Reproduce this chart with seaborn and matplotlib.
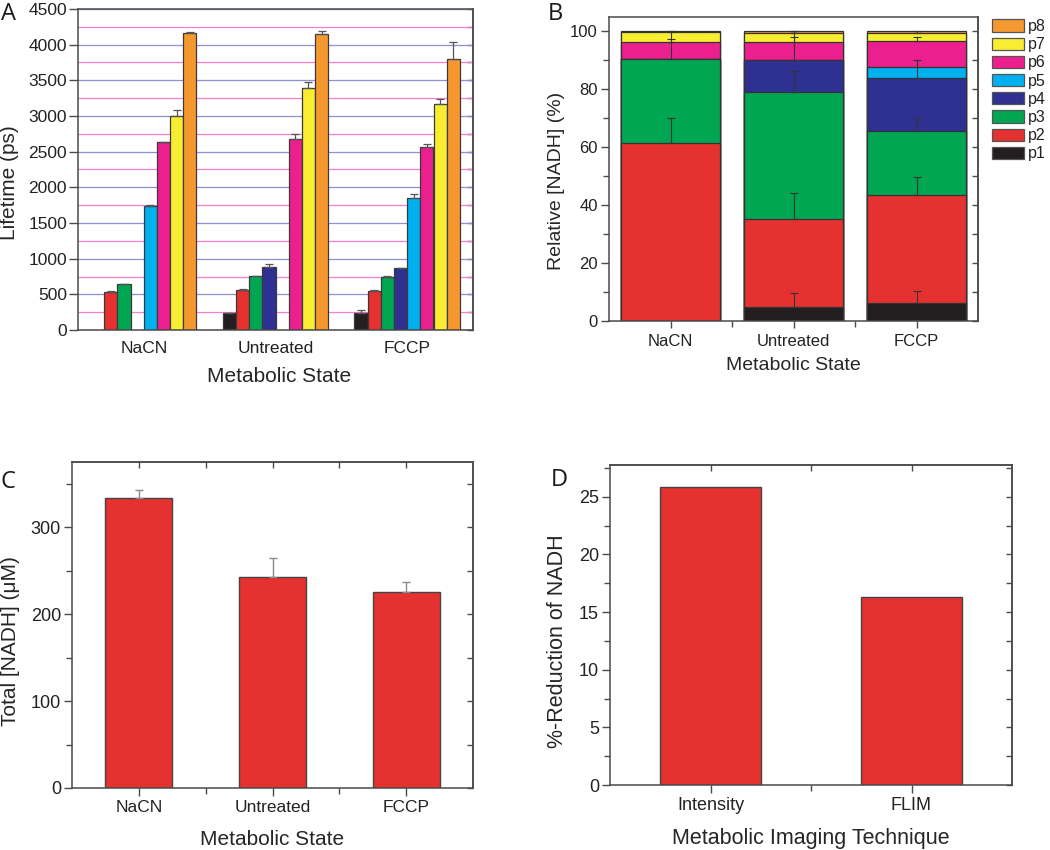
import numpy as np
import pandas as pd
import matplotlib
matplotlib.use("Agg")
import matplotlib.pyplot as plt
import seaborn as sns
from matplotlib.ticker import MultipleLocator, FixedLocator
from matplotlib.patches import Patch

# ---------------- data ----------------
states = ["NaCN", "Untreated", "FCCP"]
components = ["p1", "p2", "p3", "p4", "p5", "p6", "p7", "p8"]
colors = ["#231f20", "#e5312f", "#00a651", "#2e3192",
          "#00b0ef", "#ec1f8e", "#f9ed32", "#f4982f"]

# Panel A: lifetimes (ps)
lifetime_nacn = [np.nan, 537, 639, np.nan, 1741, 2632, 3006, 4168]
lifetime_untreated = [238, 560, 756, 877, np.nan, 2684, 3398, 4154]
lifetime_fccp = [243, 546, 737, 868, 1844, 2562, 3169, 3799]
lifetime_err_nacn = [np.nan, 8, 10, np.nan, 6, 8, 74, 8]
lifetime_err_untreated = [6, 20, 8, 43, np.nan, 60, 84, 37]
lifetime_err_fccp = [37, 8, 15, 5, 60, 47, 70, 243]

# Panel B: relative [NADH] (%)
frac_nacn = [0, 61.4, 29.2, 0, 0, 5.9, 3.3, 0.2]
frac_untreated = [4.8, 30.4, 44.0, 11.0, 0, 6.3, 2.9, 0.6]
frac_fccp = [6.3, 37.1, 22.2, 18.5, 3.5, 9.0, 2.9, 0.5]
frac_err_nacn = [0, 8.7, 6.9, 0, 0, 3.5, 0.2, 0]
frac_err_untreated = [4.7, 9.0, 7.3, 7.8, 0, 3.5, 0.6, 0]
frac_err_fccp = [4.1, 6.2, 4.5, 6.2, 0, 1.5, 0.6, 0]

# Panel C: total [NADH] (uM)
total_nadh = [334, 243, 226]
total_nadh_err = [9, 22, 11]

# Panel D
techniques = ["Intensity", "FLIM"]
reduction = [25.8, 16.3]

# ---------------- style ----------------
sns.set_style("ticks")
plt.rcParams["font.family"] = ["Liberation Sans", "DejaVu Sans"]
plt.rcParams["axes.edgecolor"] = "#4a4a4a"
plt.rcParams["axes.linewidth"] = 1.1
plt.rcParams["xtick.color"] = "#4a4a4a"
plt.rcParams["ytick.color"] = "#4a4a4a"
plt.rcParams["xtick.labelcolor"] = "#222222"
plt.rcParams["ytick.labelcolor"] = "#222222"
plt.rcParams["text.color"] = "#222222"

RED = "#e5312f"
EDGE = "#3a3a3a"

W, H = 1050, 850
fig = plt.figure(figsize=(10.5, 8.5), dpi=100)


def px_axes(left, top, right, bottom):
    return fig.add_axes([left / W, 1 - bottom / H, (right - left) / W, (bottom - top) / H])


def mirror_y(ax, major, minor):
    sec = ax.secondary_yaxis("right")
    sec.yaxis.set_major_locator(MultipleLocator(major))
    sec.yaxis.set_minor_locator(MultipleLocator(minor))
    sec.tick_params(which="both", direction="in", labelright=False, length=4, width=1)
    sec.spines["right"].set_color("#4a4a4a")
    return sec


def mirror_x(ax, n):
    sec = ax.secondary_xaxis("top")
    sec.xaxis.set_major_locator(FixedLocator(list(range(n))))
    sec.xaxis.set_minor_locator(FixedLocator([i + 0.5 for i in range(n - 1)]))
    sec.tick_params(which="both", direction="in", labeltop=False, length=4, width=1)
    return sec


def panel_letter(x, y, s):
    fig.text(x / W, 1 - y / H, s, fontsize=17, family=["Open Sans", "DejaVu Sans"],
             ha="left", va="top", color="#1a1a1a")


# ---------------- Panel A ----------------
axA = px_axes(78, 9, 473, 330)
rows = []
for s, vals, errs in zip(states,
                         [lifetime_nacn, lifetime_untreated, lifetime_fccp],
                         [lifetime_err_nacn, lifetime_err_untreated, lifetime_err_fccp]):
    for c, v, e in zip(components, vals, errs):
        if not np.isnan(v):
            rows.append(dict(state=s, comp=c, lifetime=v, err=e))
dfA = pd.DataFrame(rows)
sns.barplot(data=dfA, x="state", y="lifetime", hue="comp", order=states,
            hue_order=components, palette=colors, saturation=1, errorbar=None,
            width=0.8, edgecolor=EDGE, linewidth=0.9, legend=False, ax=axA, zorder=2)
for ci, comp in enumerate(components):
    sub = dfA[dfA.comp == comp].set_index("state")
    for bar in axA.containers[ci]:
        xc = bar.get_x() + bar.get_width() / 2
        st = states[int(round(xc))]
        e = sub.loc[st, "err"]
        axA.errorbar(xc, bar.get_height(), yerr=[[0], [e]], fmt="none",
                     ecolor="#555555", elinewidth=0.9, capsize=3, capthick=0.9, zorder=3)
axA.set_ylim(0, 4500)
axA.set_xlim(-0.5, 2.5)
axA.yaxis.set_major_locator(MultipleLocator(500))
axA.yaxis.set_minor_locator(MultipleLocator(250))
axA.set_axisbelow(True)
axA.grid(which="major", axis="y", color="#8f8fd6", lw=0.9)
axA.grid(which="minor", axis="y", color="#f27fcf", lw=0.9)
axA.tick_params(axis="y", which="major", direction="out", length=6.5, width=1, pad=1.5, labelsize=12.5)
axA.tick_params(axis="y", which="minor", left=False)
axA.tick_params(axis="x", length=0, pad=8, labelsize=12.5)
mirror_y(axA, 500, 250)
axA.set_xlabel("Metabolic State", fontsize=15)
axA.set_ylabel("Lifetime (ps)", fontsize=15)
axA.xaxis.set_label_coords(0.51, -0.115)
axA.yaxis.set_label_coords(-0.15, 0.46)
panel_letter(1, 2, "A")

# ---------------- Panel B ----------------
axB = px_axes(609, 17, 978, 321)
fracs = np.array([frac_nacn, frac_untreated, frac_fccp])
frac_errs = np.array([frac_err_nacn, frac_err_untreated, frac_err_fccp])
cum = np.cumsum(fracs, axis=1)
for j in reversed(range(len(components))):
    sns.barplot(x=states, y=cum[:, j], color=colors[j], saturation=1, width=0.8,
                edgecolor="#333333", linewidth=0.9, errorbar=None, ax=axB)
for j in range(len(components)):
    cont = axB.containers[len(components) - 1 - j]
    for bar in cont:
        xc = bar.get_x() + bar.get_width() / 2
        i = int(round(xc))
        e = frac_errs[i, j]
        if e > 0:
            axB.errorbar(xc, bar.get_height(), yerr=[[0], [e]], fmt="none",
                         ecolor="#333333", elinewidth=0.8, capsize=3, capthick=0.8, zorder=5)
axB.set_ylim(0, 105)
axB.set_xlim(-0.5, 2.5)
axB.yaxis.set_major_locator(MultipleLocator(20))
axB.yaxis.set_minor_locator(MultipleLocator(10))
axB.xaxis.set_minor_locator(FixedLocator([0.5, 1.5]))
axB.tick_params(axis="y", which="major", direction="out", length=6, width=1, pad=2, labelsize=12)
axB.tick_params(axis="y", which="minor", direction="out", length=4, width=1)
axB.tick_params(axis="x", which="major", direction="out", length=5, width=1, pad=4, labelsize=12)
axB.tick_params(axis="x", which="minor", direction="out", length=4, width=1)
mirror_y(axB, 20, 10)
axB.set_xlabel("Metabolic State", fontsize=14)
axB.set_ylabel("Relative [NADH] (%)", fontsize=14)
axB.xaxis.set_label_coords(0.5, -0.12)
axB.yaxis.set_label_coords(-0.12, 0.46)
handles = [Patch(facecolor=colors[j], edgecolor="#555555", linewidth=0.9, label=components[j])
           for j in reversed(range(len(components)))]
fig.legend(handles=handles, loc="upper left", bbox_to_anchor=(992 / W, 1 - 19 / H),
           frameon=False, fontsize=11.5, handlelength=2.0, handleheight=0.8,
           labelspacing=0.2, handletextpad=0.25, borderpad=0, borderaxespad=0)
panel_letter(548, 2, "B")

# ---------------- Panel C ----------------
axC = px_axes(72, 462, 473, 788)
sns.barplot(x=states, y=total_nadh, color=RED, saturation=1, width=0.5,
            edgecolor="#444444", linewidth=1, errorbar=None, ax=axC)
for bar, e in zip(axC.containers[0], total_nadh_err):
    xc = bar.get_x() + bar.get_width() / 2
    axC.errorbar(xc, bar.get_height(), yerr=[[0], [e]], fmt="none",
                 ecolor="#8a8a8a", elinewidth=1, capsize=3, capthick=1, zorder=3)
axC.set_ylim(0, 375)
axC.set_xlim(-0.5, 2.5)
axC.yaxis.set_major_locator(MultipleLocator(100))
axC.yaxis.set_minor_locator(MultipleLocator(50))
axC.xaxis.set_minor_locator(FixedLocator([0.5, 1.5]))
axC.tick_params(axis="y", which="major", direction="out", length=6, width=1, pad=2, labelsize=13)
axC.tick_params(axis="y", which="minor", direction="out", length=4, width=1)
axC.tick_params(axis="x", which="major", direction="out", length=6, width=1, pad=3, labelsize=12.5)
axC.tick_params(axis="x", which="minor", direction="out", length=4, width=1)
mirror_y(axC, 100, 50)
mirror_x(axC, 3)
axC.set_xlabel("Metabolic State", fontsize=15)
axC.set_ylabel("Total [NADH] (\u03bcM)", fontsize=15)
axC.xaxis.set_label_coords(0.5, -0.13)
axC.yaxis.set_label_coords(-0.13, 0.45)
panel_letter(1, 470, "C")

# ---------------- Panel D ----------------
axD = px_axes(610, 465, 1012, 785)
sns.barplot(x=techniques, y=reduction, color=RED, saturation=1, width=0.5,
            edgecolor="#444444", linewidth=1, errorbar=None, ax=axD)
axD.set_ylim(0, 27.75)
axD.set_xlim(-0.5, 1.5)
axD.yaxis.set_major_locator(MultipleLocator(5))
axD.yaxis.set_minor_locator(MultipleLocator(2.5))
axD.xaxis.set_minor_locator(FixedLocator([0.5]))
axD.tick_params(axis="y", which="major", direction="out", length=6, width=1, pad=2, labelsize=13)
axD.tick_params(axis="y", which="minor", direction="out", length=4, width=1)
axD.tick_params(axis="x", which="major", direction="out", length=6, width=1, pad=3, labelsize=13)
axD.tick_params(axis="x", which="minor", direction="out", length=4, width=1)
mirror_y(axD, 5, 2.5)
mirror_x(axD, 2)
axD.set_xlabel("Metabolic Imaging Technique", fontsize=15.5)
axD.set_ylabel("%-Reduction of NADH", fontsize=15.5)
axD.xaxis.set_label_coords(0.5, -0.135)
axD.yaxis.set_label_coords(-0.105, 0.45)
panel_letter(551, 468, "D")

for ax in (axA, axB, axC, axD):
    for sp in ax.spines.values():
        sp.set_color("#4a4a4a")
        sp.set_linewidth(1.1)

fig.savefig("out.png", dpi=100, facecolor="white")
